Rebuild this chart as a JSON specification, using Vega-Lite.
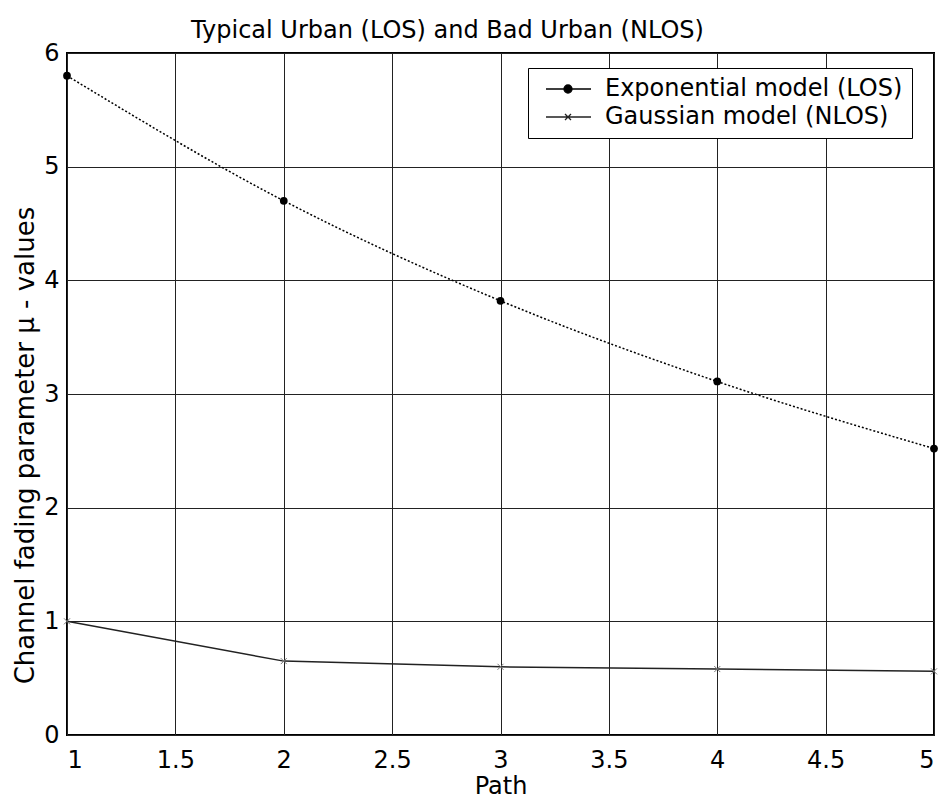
{
  "$schema": "https://vega.github.io/schema/vega-lite/v6.json",
  "width": 867,
  "height": 682,
  "autosize": {"type": "none"},
  "padding": {"left": 67, "top": 53, "right": 11, "bottom": 67},
  "background": "white",
  "config": {
    "font": "DejaVu Sans",
    "view": {"stroke": "black", "strokeWidth": 2},
    "axis": {
      "grid": true, "gridColor": "#222", "gridWidth": 1, "gridOpacity": 1,
      "domain": false, "ticks": false,
      "labelFontSize": 24, "labelColor": "black", "labelPadding": 8,
      "titleFontSize": 24, "titleFontWeight": "normal", "titleColor": "black"
    }
  },
  "title": {"text": "Typical Urban (LOS) and Bad Urban (NLOS)", "fontSize": 24, "fontWeight": "normal", "dx": -53, "dy": 7, "offset": 5, "color": "black"},
  "data": {"values": [
    {"path": 1, "mu": 5.80, "series": "Exponential model (LOS)"},
    {"path": 2, "mu": 4.70, "series": "Exponential model (LOS)"},
    {"path": 3, "mu": 3.82, "series": "Exponential model (LOS)"},
    {"path": 4, "mu": 3.11, "series": "Exponential model (LOS)"},
    {"path": 5, "mu": 2.52, "series": "Exponential model (LOS)"},
    {"path": 1, "mu": 1.00, "series": "Gaussian model (NLOS)"},
    {"path": 2, "mu": 0.65, "series": "Gaussian model (NLOS)"},
    {"path": 3, "mu": 0.60, "series": "Gaussian model (NLOS)"},
    {"path": 4, "mu": 0.58, "series": "Gaussian model (NLOS)"},
    {"path": 5, "mu": 0.56, "series": "Gaussian model (NLOS)"}
  ]},
  "encoding": {
    "x": {"field": "path", "type": "quantitative", "scale": {"domain": [1, 5], "nice": false, "zero": false},
      "axis": {"title": "Path", "values": [1, 1.5, 2, 2.5, 3, 3.5, 4, 4.5, 5], "format": "~g", "labelPadding": 13, "titlePadding": 2}},
    "y": {"field": "mu", "type": "quantitative", "scale": {"domain": [0, 6], "nice": false},
      "axis": {"title": "Channel fading parameter μ - values", "titleFontSize": 26, "titleY": 392, "values": [0, 1, 2, 3, 4, 5, 6], "titlePadding": 5}}
  },
  "layer": [
    {
      "transform": [{"filter": "datum.series === 'Exponential model (LOS)'"}],
      "mark": {"type": "line", "interpolate": "monotone", "strokeDash": [2, 2], "strokeWidth": 1.5},
      "encoding": {
        "color": {"field": "series", "type": "nominal",
          "scale": {"domain": ["Exponential model (LOS)", "Gaussian model (NLOS)"], "range": ["black", "#222"]},
          "legend": {
            "orient": "none", "legendX": 461, "legendY": 15, "title": null,
            "labelFontSize": 24, "labelColor": "black", "labelLimit": 500, "strokeColor": "black", "fillColor": "white",
            "padding": 9, "rowPadding": 4, "symbolSize": 400, "labelOffset": 44,
            "encode": {"symbols": {"update": {
              "shape": {"signal": "datum.value === 'Exponential model (LOS)' ? 'M-0.3,0L4.2,0M1.5,0A0.4,0.4 0 1,0 2.3,0A0.4,0.4 0 1,0 1.5,0' : 'M-0.3,0L4.2,0M1.6,-0.3L2.2,0.3M2.2,-0.3L1.6,0.3'"},
              "stroke": {"signal": "datum.value === 'Exponential model (LOS)' ? 'black' : '#aaa'"},
              "fill": {"signal": "datum.value === 'Exponential model (LOS)' ? 'black' : 'transparent'"},
              "strokeWidth": {"value": 1.3},
              "strokeDash": {"value": []}
            }}}
          }}
      }
    },
    {
      "transform": [{"filter": "datum.series === 'Gaussian model (NLOS)'"}],
      "mark": {"type": "line", "strokeWidth": 1.5},
      "encoding": {"color": {"field": "series", "type": "nominal"}}
    },
    {
      "transform": [{"filter": "datum.series === 'Exponential model (LOS)'"}],
      "mark": {"type": "point", "filled": true, "shape": "circle", "size": 60, "color": "black", "opacity": 1}
    },
    {
      "transform": [{"filter": "datum.series === 'Gaussian model (NLOS)'"}],
      "mark": {"type": "point", "filled": false, "shape": "M-1,-1L1,1M1,-1L-1,1", "size": 36, "color": "#777", "strokeWidth": 1, "opacity": 1}
    }
  ]
}
